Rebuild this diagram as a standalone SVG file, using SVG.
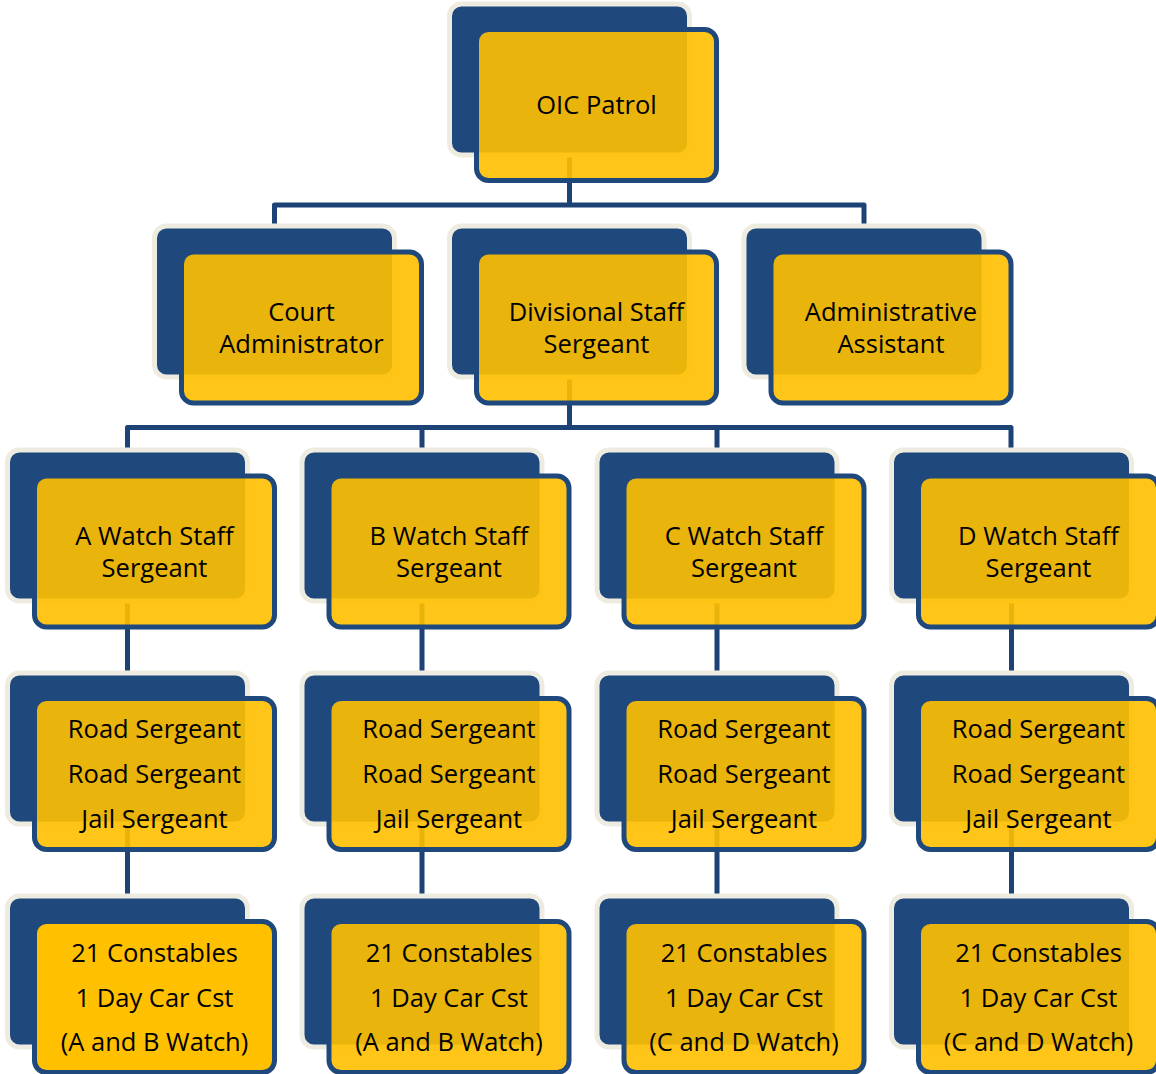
<svg xmlns="http://www.w3.org/2000/svg" width="1156" height="1074" viewBox="0 0 1156 1074">
<style>
.bk{fill:#1F497D;stroke:#EEECE1;stroke-width:5}
.fr{fill:#FFC000;fill-opacity:0.9;stroke:#1F497D;stroke-width:5}
.fo{fill:#FFC000;stroke:#1F497D;stroke-width:5}
.ln{fill:none;stroke:#1D4275;stroke-width:5;stroke-linejoin:round}
text{font-family:"Open Sans","Noto Sans",sans-serif;font-size:25.5px;fill:#000;text-anchor:middle}
</style>
<rect width="1156" height="1074" fill="#fff"/>
<g id="connectors">
<path class="ln" d="M569.5 150 V205 M274.5 228 V205 H864 V228"/>
<path class="ln" d="M569.5 372 V427.5 M127.5 452 V427.5 H1011 V452 M422 427.5 V452 M717 427.5 V452"/>
<path class="ln" d="M127.5 598 V675 M422 598 V675 M717 598 V675 M1011.5 598 V675"/>
<path class="ln" d="M127.5 820 V898 M422 820 V898 M717 820 V898 M1011.5 820 V898"/>
</g>
<g id="oic">
<rect class="bk" x="449.5" y="4" width="240" height="151" rx="12"/>
<rect class="fr" x="476.5" y="29.5" width="240" height="151" rx="12"/>
<text x="596.5" y="114">OIC Patrol</text>
</g>
<g id="court">
<rect class="bk" x="154.5" y="226" width="240" height="151" rx="12"/>
<rect class="fr" x="181.5" y="252" width="240" height="151" rx="12"/>
<text x="301.5" y="321">Court</text>
<text x="301.5" y="353">Administrator</text>
</g>
<g id="divsgt">
<rect class="bk" x="449.5" y="226" width="240" height="151" rx="12"/>
<rect class="fr" x="476.5" y="252" width="240" height="151" rx="12"/>
<text x="596.5" y="321">Divisional Staff</text>
<text x="596.5" y="353">Sergeant</text>
</g>
<g id="admin">
<rect class="bk" x="744" y="226" width="240" height="151" rx="12"/>
<rect class="fr" x="771" y="252" width="240" height="151" rx="12"/>
<text x="891" y="321">Administrative</text>
<text x="891" y="353">Assistant</text>
</g>
<g id="awatch">
<rect class="bk" x="7.5" y="450" width="240" height="151" rx="12"/>
<rect class="fr" x="34.5" y="476" width="240" height="151" rx="12"/>
<text x="154.5" y="545">A Watch Staff</text>
<text x="154.5" y="577">Sergeant</text>
</g>
<g id="bwatch">
<rect class="bk" x="302" y="450" width="240" height="151" rx="12"/>
<rect class="fr" x="329" y="476" width="240" height="151" rx="12"/>
<text x="449" y="545">B Watch Staff</text>
<text x="449" y="577">Sergeant</text>
</g>
<g id="cwatch">
<rect class="bk" x="597" y="450" width="240" height="151" rx="12"/>
<rect class="fr" x="624" y="476" width="240" height="151" rx="12"/>
<text x="744" y="545">C Watch Staff</text>
<text x="744" y="577">Sergeant</text>
</g>
<g id="dwatch">
<rect class="bk" x="891.5" y="450" width="240" height="151" rx="12"/>
<rect class="fr" x="918.5" y="476" width="240" height="151" rx="12"/>
<text x="1038.5" y="545">D Watch Staff</text>
<text x="1038.5" y="577">Sergeant</text>
</g>
<g id="aroad">
<rect class="bk" x="7.5" y="673" width="240" height="151" rx="12"/>
<rect class="fr" x="34.5" y="698.5" width="240" height="151" rx="12"/>
<text x="154.5" y="738">Road Sergeant</text>
<text x="154.5" y="783">Road Sergeant</text>
<text x="154.5" y="828">Jail Sergeant</text>
</g>
<g id="broad">
<rect class="bk" x="302" y="673" width="240" height="151" rx="12"/>
<rect class="fr" x="329" y="698.5" width="240" height="151" rx="12"/>
<text x="449" y="738">Road Sergeant</text>
<text x="449" y="783">Road Sergeant</text>
<text x="449" y="828">Jail Sergeant</text>
</g>
<g id="croad">
<rect class="bk" x="597" y="673" width="240" height="151" rx="12"/>
<rect class="fr" x="624" y="698.5" width="240" height="151" rx="12"/>
<text x="744" y="738">Road Sergeant</text>
<text x="744" y="783">Road Sergeant</text>
<text x="744" y="828">Jail Sergeant</text>
</g>
<g id="droad">
<rect class="bk" x="891.5" y="673" width="240" height="151" rx="12"/>
<rect class="fr" x="918.5" y="698.5" width="240" height="151" rx="12"/>
<text x="1038.5" y="738">Road Sergeant</text>
<text x="1038.5" y="783">Road Sergeant</text>
<text x="1038.5" y="828">Jail Sergeant</text>
</g>
<g id="acst">
<rect class="bk" x="7.5" y="896" width="240" height="151" rx="12"/>
<rect class="fo" x="34.5" y="921.5" width="240" height="151" rx="12"/>
<text x="154.5" y="962">21 Constables</text>
<text x="154.5" y="1007">1 Day Car Cst</text>
<text x="154.5" y="1051">(A and B Watch)</text>
</g>
<g id="bcst">
<rect class="bk" x="302" y="896" width="240" height="151" rx="12"/>
<rect class="fr" x="329" y="921.5" width="240" height="151" rx="12"/>
<text x="449" y="962">21 Constables</text>
<text x="449" y="1007">1 Day Car Cst</text>
<text x="449" y="1051">(A and B Watch)</text>
</g>
<g id="ccst">
<rect class="bk" x="597" y="896" width="240" height="151" rx="12"/>
<rect class="fr" x="624" y="921.5" width="240" height="151" rx="12"/>
<text x="744" y="962">21 Constables</text>
<text x="744" y="1007">1 Day Car Cst</text>
<text x="744" y="1051">(C and D Watch)</text>
</g>
<g id="dcst">
<rect class="bk" x="891.5" y="896" width="240" height="151" rx="12"/>
<rect class="fr" x="918.5" y="921.5" width="240" height="151" rx="12"/>
<text x="1038.5" y="962">21 Constables</text>
<text x="1038.5" y="1007">1 Day Car Cst</text>
<text x="1038.5" y="1051">(C and D Watch)</text>
</g>
</svg>
